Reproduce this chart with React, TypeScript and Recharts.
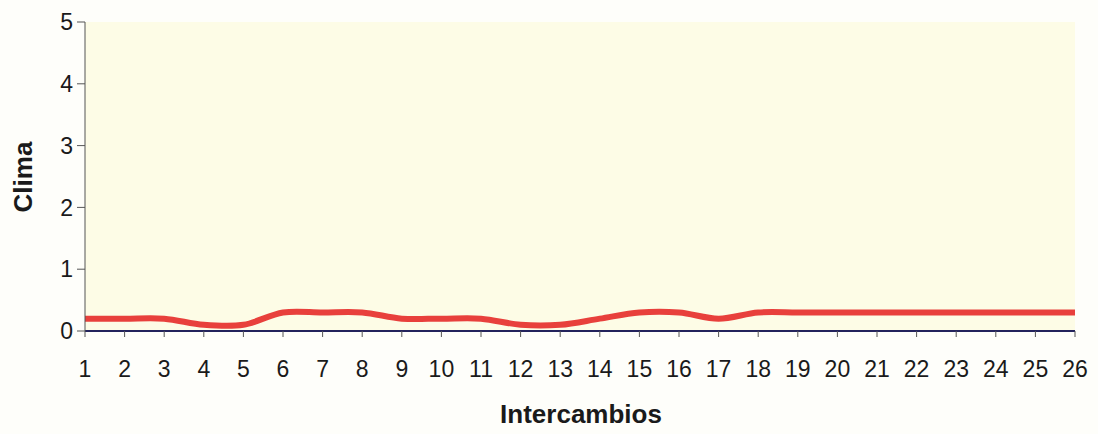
import { LineChart, Line, XAxis, YAxis, CartesianGrid, Label } from "recharts";

const intercambios = [
  1, 2, 3, 4, 5, 6, 7, 8, 9, 10, 11, 12, 13, 14, 15, 16, 17, 18, 19, 20, 21, 22, 23, 24, 25, 26,
];
const clima = [
  0.2, 0.2, 0.2, 0.1, 0.1, 0.3, 0.3, 0.3, 0.2, 0.2, 0.2, 0.1, 0.1, 0.2, 0.3, 0.3, 0.2, 0.3, 0.3,
  0.3, 0.3, 0.3, 0.3, 0.3, 0.3, 0.3,
];
const yTicks = [0, 1, 2, 3, 4, 5];

const data = intercambios.map((x, i) => ({ x, clima: clima[i] }));

const font = "'Liberation Sans', Arial, sans-serif";

// Excel-style smoothed line (Catmull-Rom through every point)
function catmullRom(context: any) {
  let pts: number[][] = [];
  return {
    areaStart() {},
    areaEnd() {},
    lineStart() {
      pts = [];
    },
    point(x: number, y: number) {
      pts.push([+x, +y]);
    },
    lineEnd() {
      if (!pts.length) return;
      context.moveTo(pts[0][0], pts[0][1]);
      for (let i = 0; i < pts.length - 1; i++) {
        const p0 = pts[i - 1] ?? pts[i];
        const p1 = pts[i];
        const p2 = pts[i + 1];
        const p3 = pts[i + 2] ?? pts[i + 1];
        context.bezierCurveTo(
          p1[0] + (p2[0] - p0[0]) / 6,
          p1[1] + (p2[1] - p0[1]) / 6,
          p2[0] - (p3[0] - p1[0]) / 6,
          p2[1] - (p3[1] - p1[1]) / 6,
          p2[0],
          p2[1]
        );
      }
    },
  };
}

export default function App() {
  return (
    <div
      style={{
        position: "fixed",
        top: 0,
        left: 0,
        width: 1098,
        height: 434,
        background: "#fefefa",
        fontFamily: font,
      }}
    >
      <LineChart
        width={1098}
        height={434}
        data={data}
        margin={{ top: 22, right: 23, bottom: 0, left: 0 }}
      >
        <CartesianGrid
          horizontal={false}
          vertical={false}
          fill="#fdfce6"
          stroke="none"
        />
        <XAxis
          dataKey="x"
          type="number"
          domain={[1, 26]}
          ticks={intercambios}
          interval={0}
          height={103}
          tickSize={6}
          tickMargin={24}
          axisLine={{ stroke: "#23235c", strokeWidth: 2 }}
          tickLine={{ stroke: "#555" }}
          tick={{ fill: "#1a1a1a", fontSize: 23, fontFamily: font }}
        >
          <Label
            content={() => (
              <text
                x={581}
                y={423}
                textAnchor="middle"
                fontFamily={font}
                fontSize={26}
                fontWeight="bold"
                fill="#1a1a1a"
              >
                Intercambios
              </text>
            )}
          />
        </XAxis>
        <YAxis
          type="number"
          domain={[0, 5]}
          ticks={yTicks}
          width={85}
          tickSize={8}
          tickMargin={4}
          axisLine={{ stroke: "#555" }}
          tickLine={{ stroke: "#555" }}
          tick={{ fill: "#1a1a1a", fontSize: 23, fontFamily: font }}
        >
          <Label
            content={() => (
              <text
                x={32}
                y={177}
                transform="rotate(-90 32 177)"
                textAnchor="middle"
                fontFamily={font}
                fontSize={26}
                fontWeight="bold"
                fill="#1a1a1a"
              >
                Clima
              </text>
            )}
          />
        </YAxis>
        <Line
          type={catmullRom as any}
          dataKey="clima"
          stroke="#e8403c"
          strokeWidth={6}
          dot={false}
          isAnimationActive={false}
        />
      </LineChart>
    </div>
  );
}
